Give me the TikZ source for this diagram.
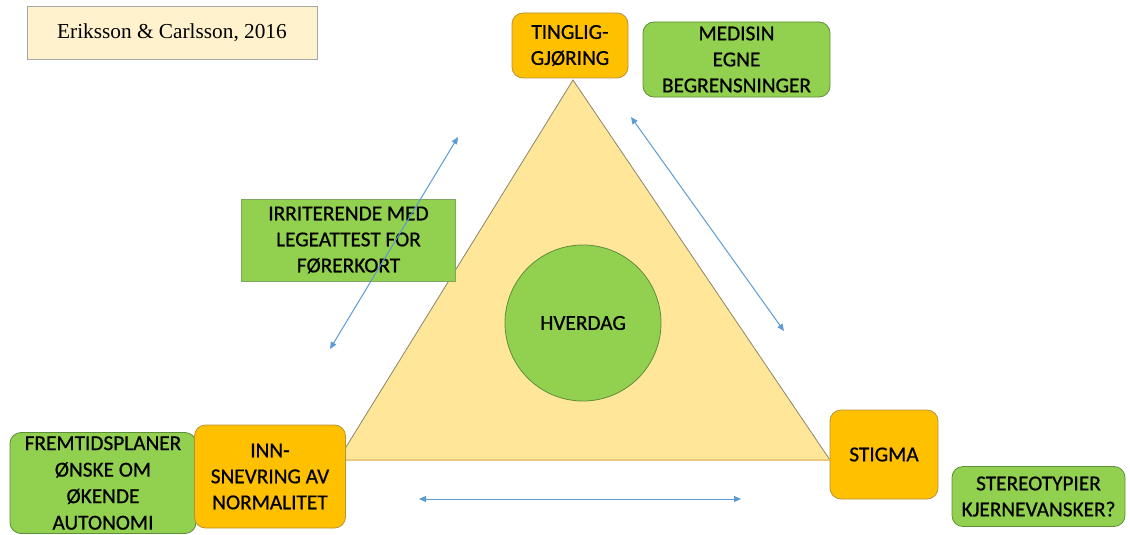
\documentclass[tikz,border=0pt]{standalone}
\usepackage{fontspec}
\setmainfont{Carlito}[FakeBold=0.7]
\newfontfamily\serifface{Liberation Serif}
\usetikzlibrary{arrows.meta}
\definecolor{orangefill}{HTML}{FFC000}
\definecolor{orangeline}{HTML}{B8923A}
\definecolor{greenfill}{HTML}{92D050}
\definecolor{greenline}{HTML}{5F8E3A}
\definecolor{trifill}{HTML}{FFE699}
\definecolor{triline}{HTML}{8C8468}
\definecolor{notefill}{HTML}{FFF2CC}
\definecolor{noteline}{HTML}{A6A6A6}
\definecolor{arrowblue}{HTML}{5B9BD5}
\tikzset{
  lbl/.style={font=\fontsize{21.3}{26}\selectfont, align=center, inner sep=0pt, text=black},
  orangebox/.style={lbl, draw=orangeline, fill=orangefill, rounded corners=11pt, line width=0.8pt},
  greenbox/.style={lbl, draw=greenline, fill=greenfill, rounded corners=11pt, line width=0.8pt},
  greenrect/.style={lbl, draw=greenline!80, fill=greenfill, line width=0.8pt},
  link/.style={draw=arrowblue, line width=1pt, {Triangle[length=7pt,width=6pt]}-{Triangle[length=7pt,width=6pt]}}
}
\begin{document}
\begin{tikzpicture}[x=1pt, y=-1pt]
\useasboundingbox (0,0) rectangle (1130,535);

% central triangle and the circle inside it
\coordinate (apex) at (573,80);
\coordinate (bl) at (338,460);
\coordinate (br) at (830,460);
\fill[trifill] (apex) -- (br) -- (bl) -- cycle;
\draw[triline, line width=0.8pt] (bl) -- (apex) -- (br);
\draw[trifill!70!brown, line width=1.6pt] (bl) -- (br);
\node[lbl, circle, draw=greenline, fill=greenfill, line width=0.8pt, minimum size=156pt] (hverdag) at (583,323) {HVERDAG};

% citation
\node[font=\serifface\fontsize{21.3}{25}\selectfont, draw=noteline, fill=notefill, line width=0.8pt,
      minimum width=290pt, minimum height=53pt, inner sep=0pt] (cite) at (172,32.5) {Eriksson \& Carlsson, 2016};

% corner boxes
\node[orangebox, minimum width=116pt, minimum height=65pt] (ting) at (570,45.5) {TINGLIG-\\GJØRING};
\node[greenbox, minimum width=187pt, minimum height=75pt] (med) at (736.5,59.5) {MEDISIN\\EGNE\\BEGRENSNINGER};
\node[greenrect, minimum width=214pt, minimum height=82pt] (irr) at (348.5,240) {IRRITERENDE MED\\LEGEATTEST FOR\\FØRERKORT};
\node[greenbox, minimum width=186pt, minimum height=101pt, font=\fontsize{21.3}{26.5}\selectfont] (frem) at (103,483) {FREMTIDSPLANER\\ØNSKE OM\\ØKENDE\\AUTONOMI};
\node[orangebox, minimum width=151pt, minimum height=103pt] (inn) at (270,476.5) {INN-\\SNEVRING AV\\NORMALITET};
\node[orangebox, minimum width=108pt, minimum height=89pt] (stigma) at (884,454.5) {STIGMA};
\node[greenbox, minimum width=173pt, minimum height=60pt] (stereo) at (1038.5,496.5) {STEREOTYPIER\\KJERNEVANSKER?};

% double-headed arrows along the sides
\coordinate (la) at (330,349);
\coordinate (lb) at (458,137);
\coordinate (ra) at (631,117);
\coordinate (rb) at (784,331);
\coordinate (ba) at (419,499);
\coordinate (bb) at (741,499);
\draw[link] (la) -- (lb);
\draw[link] (ra) -- (rb);
\draw[link] (ba) -- (bb);
\end{tikzpicture}
\end{document}
